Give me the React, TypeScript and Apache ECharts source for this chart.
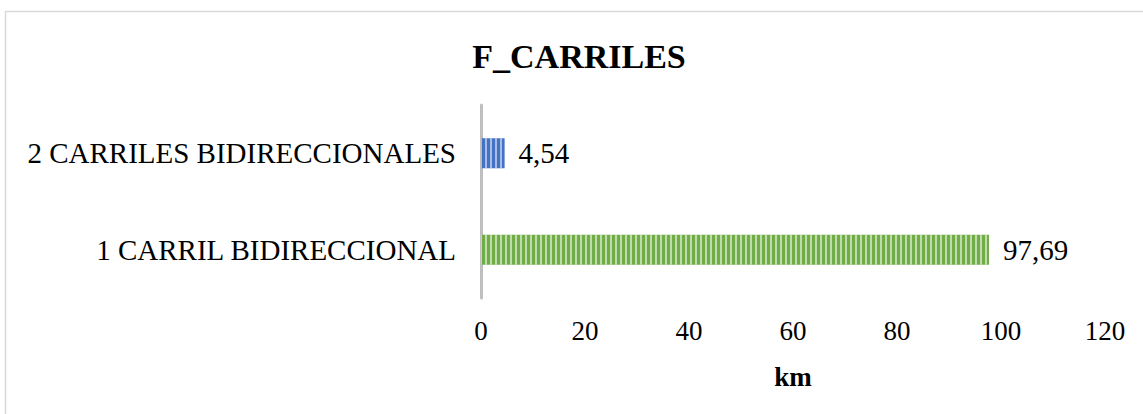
import React, { useEffect, useRef } from "react";
import * as echarts from "echarts";

const categories = ["1 CARRIL BIDIRECCIONAL", "2 CARRILES BIDIRECCIONALES"];
const values = [97.69, 4.54];
const barColors = ["#70ad47", "#4472c4"];
const stripeColors = ["rgba(226,240,217,0.7)", "rgba(210,222,245,0.7)"];
const xTicks = { min: 0, max: 120, interval: 20 };
const titleText = "F_CARRILES";
const axisName = "km";

export default function App() {
  const ref = useRef<HTMLDivElement>(null);
  useEffect(() => {
    document.body.style.margin = "0";
    const chart = echarts.init(ref.current!, undefined, { renderer: "svg" });
    const font = "Liberation Serif";
    chart.setOption({
      animation: false,
      backgroundColor: "#ffffff",
      title: {
        text: titleText,
        left: 574,
        top: 34,
        textAlign: "center",
        textStyle: { fontFamily: font, fontSize: 34, fontWeight: "bold", color: "#000" },
      },
      graphic: [
        {
          type: "rect",
          shape: { x: 5.5, y: 11.5, width: 1300, height: 600 },
          style: { fill: "none", stroke: "#d9d9d9", lineWidth: 1.5 },
          silent: true,
          z: -1,
        },
      ],
      grid: { left: 481, right: 38, top: 105, bottom: 116, containLabel: false },
      xAxis: {
        type: "value",
        min: xTicks.min,
        max: xTicks.max,
        interval: xTicks.interval,
        axisLine: { show: false },
        axisTick: { show: false },
        splitLine: { show: false },
        axisLabel: { fontFamily: font, fontSize: 27, color: "#000", margin: 19 },
        name: axisName,
        nameLocation: "middle",
        nameGap: 65,
        nameTextStyle: { fontFamily: font, fontSize: 27, fontWeight: "bold", color: "#000" },
      },
      yAxis: {
        type: "category",
        data: categories,
        axisLine: { show: true, lineStyle: { color: "#bfbfbf", width: 3 } },
        axisTick: { show: false },
        axisLabel: { fontFamily: font, fontSize: 29, color: "#000", margin: 25 },
      },
      series: [
        {
          type: "bar",
          barWidth: 30,
          data: values.map((v, i) => ({
            value: v,
            itemStyle: {
              color: barColors[i],
              decal: {
                symbol: "rect",
                symbolSize: 1,
                color: stripeColors[i],
                dashArrayX: [1.5, 2.5],
                dashArrayY: [4, 0],
                rotation: 0,
              },
            },
          })),
          label: {
            show: true,
            position: "right",
            distance: 14,
            fontFamily: font,
            fontSize: 29,
            color: "#000",
            formatter: (p: any) => String(p.value).replace(".", ","),
          },
        },
      ],
    });
    return () => chart.dispose();
  }, []);
  return <div ref={ref} style={{ width: 1143, height: 414 }} />;
}
